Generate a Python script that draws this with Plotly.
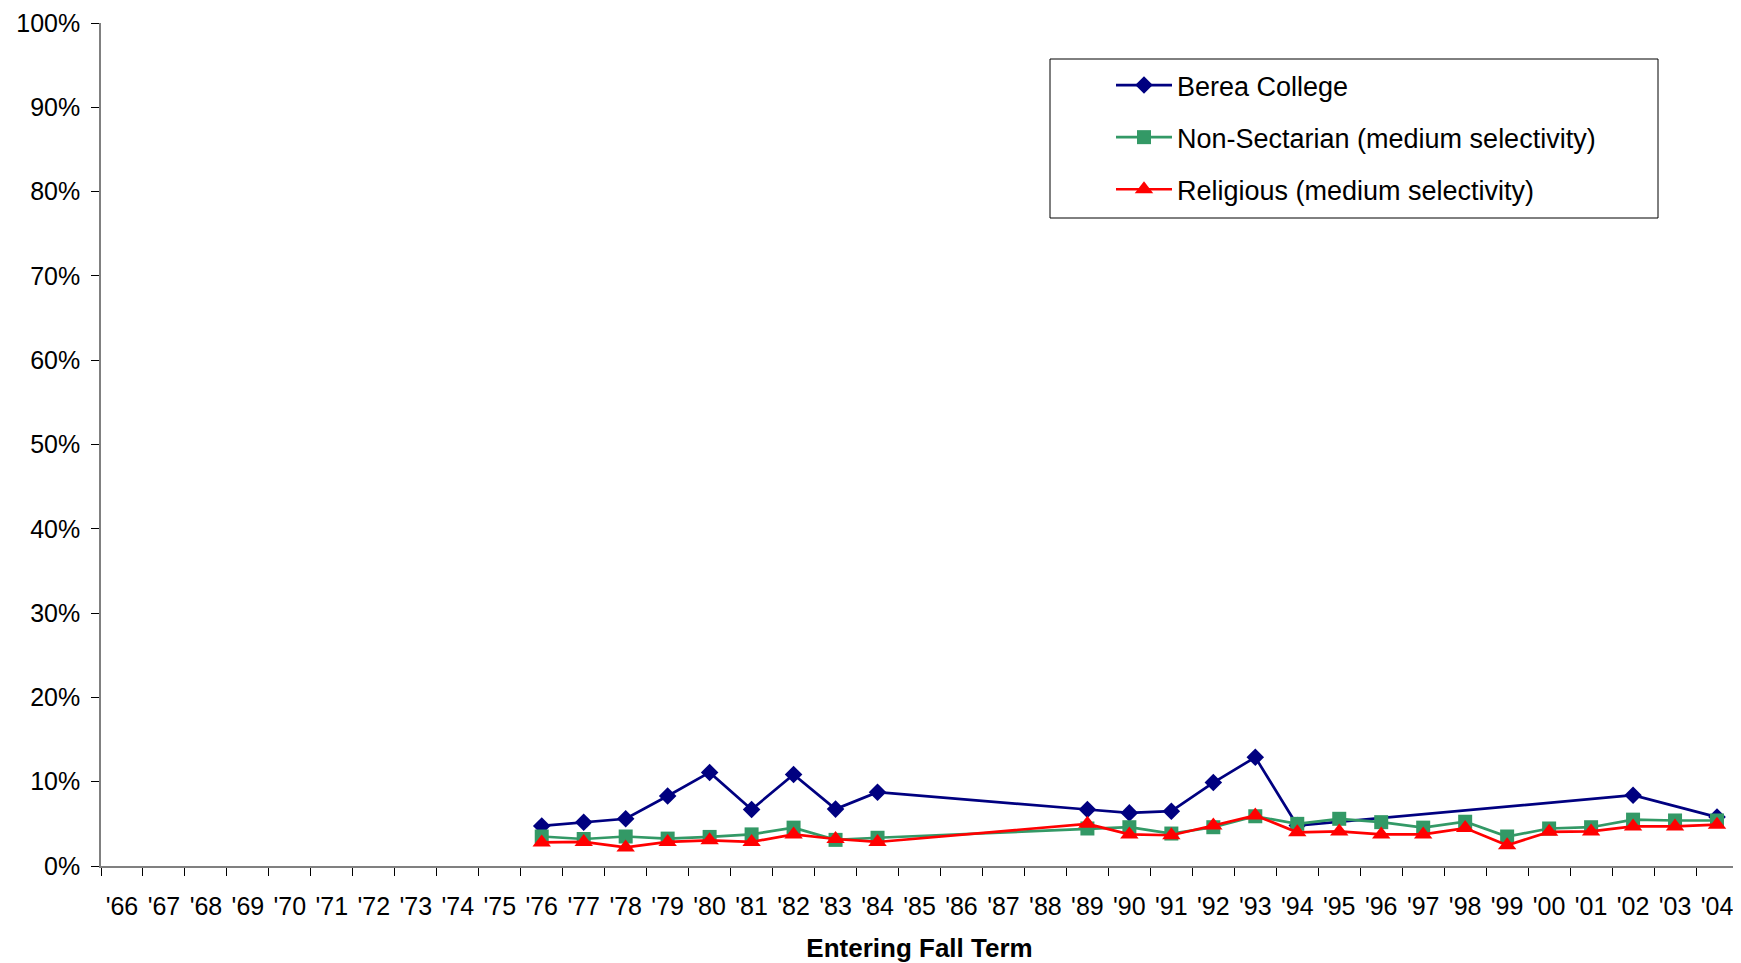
import plotly.graph_objects as go

years = ["'66", "'67", "'68", "'69", "'70", "'71", "'72", "'73", "'74", "'75",
         "'76", "'77", "'78", "'79", "'80", "'81", "'82", "'83", "'84", "'85",
         "'86", "'87", "'88", "'89", "'90", "'91", "'92", "'93", "'94", "'95",
         "'96", "'97", "'98", "'99", "'00", "'01", "'02", "'03", "'04"]

N = None
berea = [N]*10 + [0.0475, 0.052, 0.056, 0.083, 0.111, 0.067, 0.1085, 0.0675, 0.0875,
                  N, N, N, N,
                  0.067, 0.063, 0.065, 0.099, 0.129, 0.048,
                  N, N, N, N, N, N, N,
                  0.084, N, 0.058]
nonsect = [N]*10 + [0.035, 0.032, 0.035, 0.0325, 0.0345, 0.0375, 0.0455, 0.031, 0.0335,
                    N, N, N, N,
                    0.0445, 0.046, 0.0385, 0.046, 0.059, 0.050,
                    0.056, 0.052, 0.0455, 0.0525, 0.035, 0.0445, 0.046,
                    0.055, 0.054, 0.054]
relig = [N]*10 + [0.028, 0.0285, 0.022, 0.0285, 0.0305, 0.0285, 0.0375, 0.032, 0.0285,
                  N, N, N, N,
                  0.050, 0.0375, 0.0365, 0.048, 0.060, 0.040,
                  0.041, 0.0375, 0.0375, 0.045, 0.0245, 0.0405, 0.041,
                  0.047, 0.047, 0.049]

FONT = "Arial, 'Liberation Sans', sans-serif"

# page has an 8px body margin; figure is drawn from (8, 8)
OFF = 8
W, H = 1741 - OFF, 963 - OFF
# plot area in screen pixels
L, R, T, B = 101, 1738, 23, 866
PW, PH = R - L, B - T


def px_x(p):
    return (p - L) / PW


def px_y(p):
    return (B - p) / PH


fig = go.Figure()
fig.add_trace(go.Scatter(x=years, y=berea, name="Berea College", mode="lines+markers",
                         connectgaps=True, legendgroup="a",
                         line=dict(color="#000080", width=2.7),
                         marker=dict(symbol="diamond", size=13.5, color="#000080")))
fig.add_trace(go.Scatter(x=years, y=nonsect, name="Non-Sectarian (medium selectivity)",
                         mode="lines+markers", connectgaps=True, legendgroup="b",
                         line=dict(color="#339966", width=2.7),
                         marker=dict(symbol="square", size=14, color="#339966")))
fig.add_trace(go.Scatter(x=years, y=relig, name="Religious (medium selectivity)",
                         mode="lines+markers", connectgaps=True, legendgroup="c",
                         line=dict(color="#FF0000", width=2.7),
                         marker=dict(symbol="triangle-up", size=16, color="#FF0000")))

# legend frame
fig.add_shape(type="rect", xref="paper", yref="paper",
              x0=px_x(1050), x1=px_x(1658), y0=px_y(218), y1=px_y(59),
              line=dict(color="black", width=1), fillcolor="white", layer="below")

fig.update_layout(
    width=W, height=H,
    margin=dict(l=L - OFF, r=W - (R - OFF), t=T - OFF, b=H - (B - OFF), autoexpand=False),
    paper_bgcolor="white", plot_bgcolor="white",
    font=dict(family=FONT, size=25, color="black"),
    showlegend=True,
    legend=dict(x=px_x(1111), y=px_y(61), xanchor="left", yanchor="top",
                bgcolor="rgba(0,0,0,0)", borderwidth=0,
                font=dict(size=27), tracegroupgap=14, itemwidth=56,
                traceorder="grouped"),
    xaxis=dict(type="category", categoryorder="array", categoryarray=years,
               range=[-0.5, len(years)-0.5], showgrid=False, zeroline=False,
               automargin=False,
               showline=True, linecolor="#808080", linewidth=2,
               ticks="outside", tickson="boundaries", ticklen=8, tickcolor="black",
               tickfont=dict(size=25), ticklabelstandoff=17,
               title=dict(text="<b>Entering Fall Term</b>", font=dict(size=26), standoff=27)),
    yaxis=dict(range=[0, 1], dtick=0.1, tickformat=".0%", showgrid=False,
               zeroline=False, showline=True, linecolor="#808080", linewidth=1.5,
               automargin=False,
               ticks="outside", ticklen=8, tickcolor="black",
               tickfont=dict(size=25), ticklabelstandoff=6),
)

fig.write_html("out.html")
